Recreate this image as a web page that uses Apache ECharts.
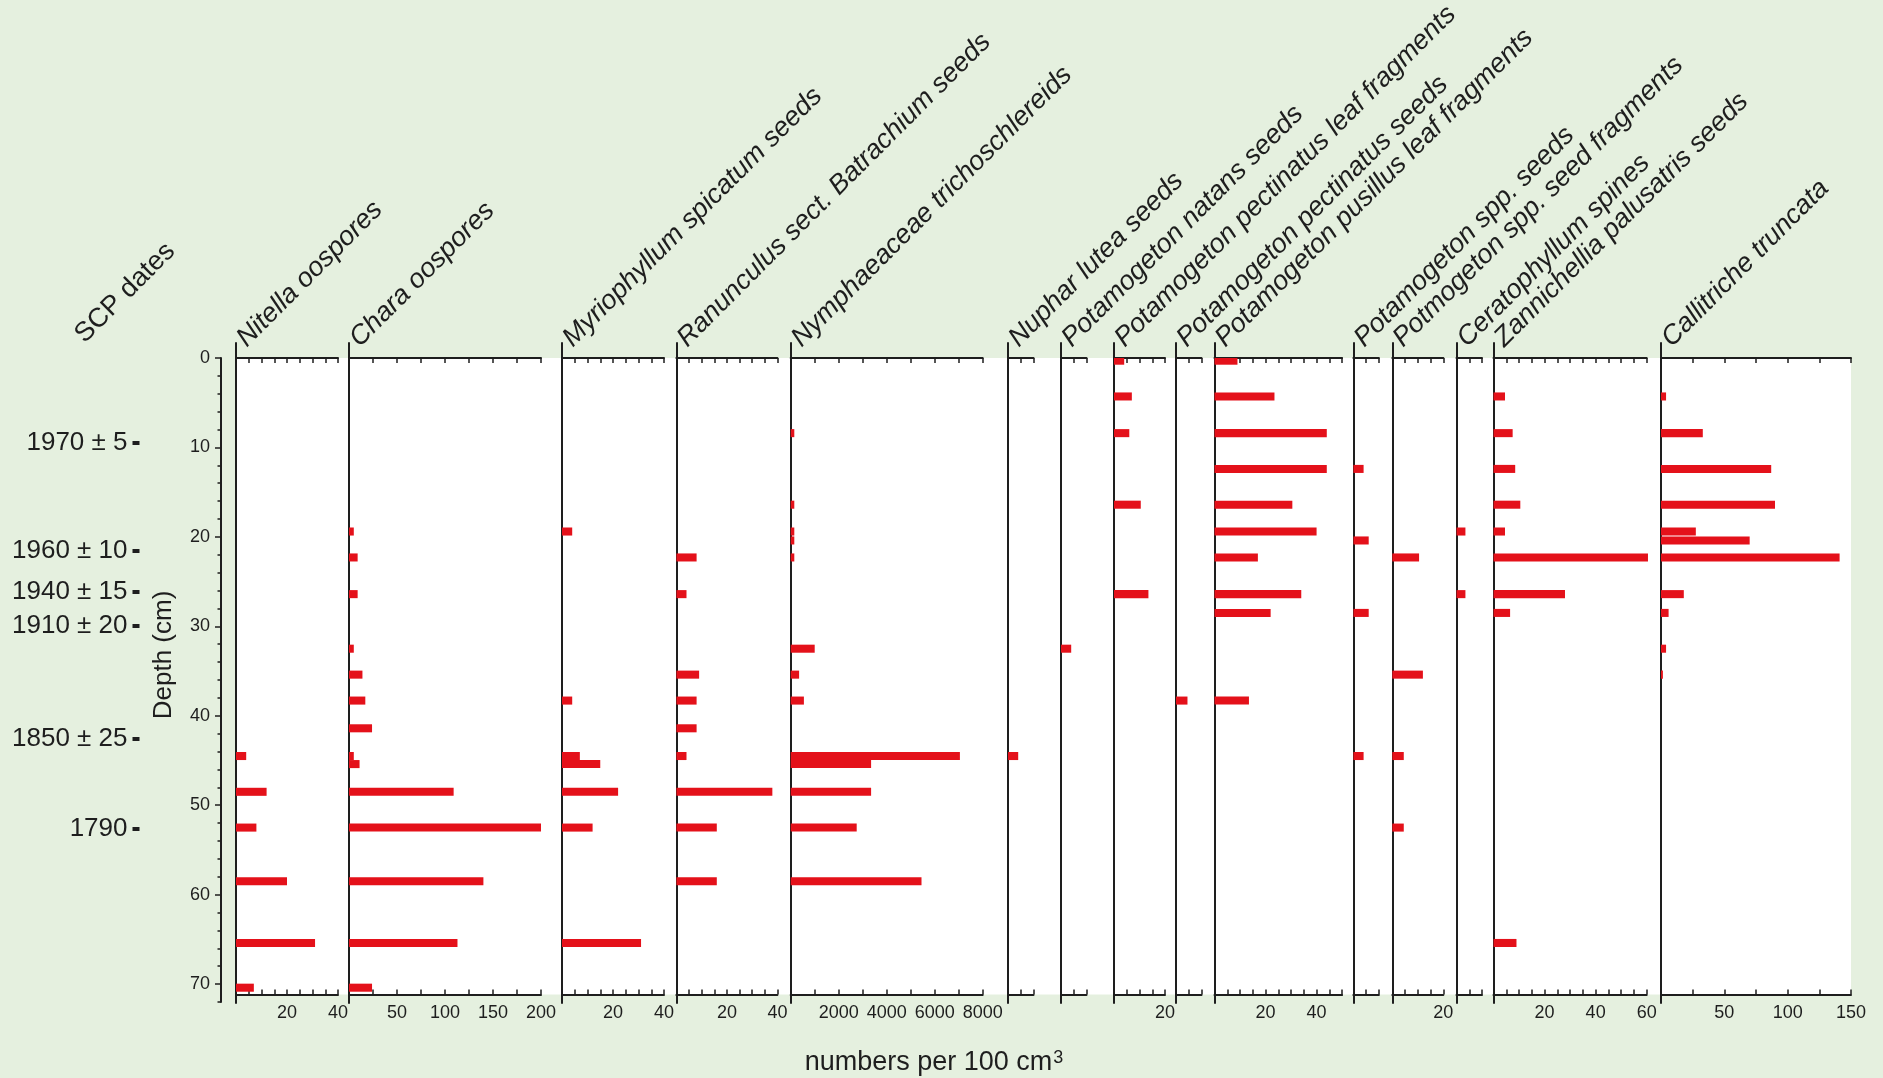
<!DOCTYPE html>
<html>
<head>
<meta charset="utf-8">
<title>Aquatic macrofossil stratigraphy</title>
<script src="https://cdn.jsdelivr.net/npm/echarts@6/dist/echarts.min.js"></script>
<style>
  html, body { margin: 0; padding: 0; background: #e5f0df; }
  #chart { width: 1883px; height: 1078px; }
</style>
</head>
<body>
<div id="chart"></div>
<script>
// ---------------------------------------------------------------------------
// Data: sample depths (cm) and concentrations (numbers per 100 cm3),
// one value per sample depth (0 = not found)
// ---------------------------------------------------------------------------
const depths = [0.3, 4.3, 8.4, 12.4, 16.4, 19.4, 20.4, 22.3, 26.4, 28.5, 32.5,
                35.4, 38.3, 41.4, 44.5, 45.4, 48.5, 52.5, 58.5, 65.4, 70.4];

const nitella     = [0, 0, 0, 0, 0, 0, 0, 0, 0, 0, 0, 0, 0, 0, 4, 0, 12, 8, 20, 31, 7];
const chara       = [0, 0, 0, 0, 0, 5, 0, 9, 9, 0, 5, 14, 17, 24, 5, 11, 109, 200, 140, 113, 24];
const myriophyllum = [0, 0, 0, 0, 0, 4, 0, 0, 0, 0, 0, 0, 4, 0, 7, 15, 22, 12, 0, 31, 0];
const ranunculus  = [0, 0, 0, 0, 0, 0, 0, 8, 4, 0, 0, 9, 8, 8, 4, 0, 38, 16, 16, 0, 0];
const nymphaeaceae = [0, 0, 150, 0, 150, 150, 150, 150, 0, 0, 1000, 350, 550, 0, 7050, 3350, 3350, 2750, 5450, 0, 0];
const nuphar      = [0, 0, 0, 0, 0, 0, 0, 0, 0, 0, 0, 0, 0, 0, 4, 0, 0, 0, 0, 0, 0];
const natans      = [0, 0, 0, 0, 0, 0, 0, 0, 0, 0, 4, 0, 0, 0, 0, 0, 0, 0, 0, 0, 0];
const pectLeaf    = [4, 7, 6, 0, 10.5, 0, 0, 0, 13.5, 0, 0, 0, 0, 0, 0, 0, 0, 0, 0, 0, 0];
const pectSeeds   = [0, 0, 0, 0, 0, 0, 0, 0, 0, 0, 0, 0, 4.5, 0, 0, 0, 0, 0, 0, 0, 0];
const pusillusLeaf = [9, 23.5, 44, 44, 30.5, 40, 0, 17, 34, 22, 0, 0, 13.5, 0, 0, 0, 0, 0, 0, 0, 0];
const sppSeeds    = [0, 0, 0, 4, 0, 0, 6, 0, 0, 6, 0, 0, 0, 0, 4, 0, 0, 0, 0, 0, 0];
const sppFragments = [0, 0, 0, 0, 0, 0, 0, 10.5, 0, 0, 0, 12, 0, 0, 4.5, 0, 0, 4.5, 0, 0, 0];
const ceratophyllum = [0, 0, 0, 0, 0, 3.5, 0, 0, 3.5, 0, 0, 0, 0, 0, 0, 0, 0, 0, 0, 0, 0];
const zannichellia = [0, 4.5, 7.5, 8.5, 10.5, 4.5, 0, 60.5, 28, 6.5, 0, 0, 0, 0, 0, 0, 0, 0, 0, 9, 0];
const callitriche = [0, 4, 33, 87, 90, 27.5, 70, 141, 18, 6, 4, 1.5, 0, 0, 0, 0, 0, 0, 0, 0, 0];

const taxa = [
  'Nitella oospores', 'Chara oospores', 'Myriophyllum spicatum seeds',
  'Ranunculus sect. Batrachium seeds', 'Nymphaeaceae trichoschlereids',
  'Nuphar lutea seeds', 'Potamogeton natans seeds',
  'Potamogeton pectinatus leaf fragments', 'Potamogeton pectinatus seeds',
  'Potamogeton pusillus leaf fragments', 'Potamogeton spp. seeds',
  'Potmogeton spp. seed fragments', 'Ceratophyllum spines',
  'Zannichellia palusatris seeds', 'Callitriche truncata'
];
const taxonValues = [nitella, chara, myriophyllum, ranunculus, nymphaeaceae, nuphar,
  natans, pectLeaf, pectSeeds, pusillusLeaf, sppSeeds, sppFragments, ceratophyllum,
  zannichellia, callitriche];

// Axis extents, tick spacing and labelled values of each column
const axisMax  = [40, 200, 40, 40, 8000, 10, 10, 20, 10, 50, 10, 20, 10, 60, 150];
const tickStep = [5, 25, 5, 5, 1000, 5, 5, 5, 5, 5, 5, 5, 5, 5, 25];
const tickLabels = [[20, 40], [50, 100, 150, 200], [20, 40], [20, 40],
  [2000, 4000, 6000, 8000], [], [], [20], [], [20, 40], [], [20], [], [20, 40, 60],
  [50, 100, 150]];

// Depth axis ticks and the SCP-dated horizons
const depthTicks = [0, 10, 20, 30, 40, 50, 60, 70];
const depthMinorTicks = [0, 2, 4, 6, 8, 10, 12, 14, 16, 18, 20, 22, 24, 26, 28, 30, 32, 34,
  36, 38, 40, 42, 44, 46, 48, 50, 52, 54, 56, 58, 60, 62, 64, 66, 68, 70, 72];
const scpDates  = ['1970 \u00b1 5', '1960 \u00b1 10', '1940 \u00b1 15', '1910 \u00b1 20', '1850 \u00b1 25', '1790'];
const scpDepths = [9.5, 21.6, 26.1, 29.9, 42.6, 52.6];

// ---------------------------------------------------------------------------
// Layout (pixels)
// ---------------------------------------------------------------------------
const panelLeft  = [236, 349, 562, 676.4, 790.7, 1008, 1061, 1114, 1176, 1214.5, 1353.4, 1392.3, 1456.5, 1493.5, 1661];
const panelWidth = [102, 192, 102, 101, 192, 25.5, 25.5, 51, 25.5, 127.6, 25.5, 51, 25.5, 153.2, 190];

const DEPTH_AXIS_X = 221;
const DATE_AXIS_X = 139.5;
const DEPTH_TOP = 358, DEPTH_BOTTOM = 1002, DEPTH_MAX = 72;
const PX_PER_CM = (DEPTH_BOTTOM - DEPTH_TOP) / DEPTH_MAX;
const PANEL_TOP = 343, PANEL_BOTTOM = 1003, PANEL_AXIS_BOTTOM = 994.5;
const panelYMin = (PANEL_TOP - DEPTH_TOP) / PX_PER_CM;
const panelYMax = (PANEL_BOTTOM - DEPTH_TOP) / PX_PER_CM;
const BAR_HALF = 0.45;

const INK = '#1e1e1e';
const RED = '#e4111a';
const FONT = '"Liberation Sans", Arial, Helvetica, sans-serif';

const chart = echarts.init(document.getElementById('chart'));

const grids = [], xAxes = [], yAxes = [], series = [];

taxa.forEach((name, i) => {
  grids.push({
    left: panelLeft[i], width: panelWidth[i],
    top: PANEL_TOP, height: PANEL_BOTTOM - PANEL_TOP,
    containLabel: false, outerBoundsMode: 'none', show: false
  });
  const common = {
    type: 'value', gridIndex: i, min: 0, max: axisMax[i], interval: tickStep[i],
    splitLine: { show: false },
    axisLine: { show: true, onZero: false, lineStyle: { color: INK, width: 2 } },
    axisTick: { show: true, inside: true, length: 5, lineStyle: { color: INK, width: 1.5 } }
  };
  // top scale (ticks only)
  xAxes.push(Object.assign({}, common, {
    position: 'top', offset: -(DEPTH_TOP - PANEL_TOP),
    axisLabel: { show: false }
  }));
  // bottom scale with value labels
  const labels = tickLabels[i];
  xAxes.push(Object.assign({}, common, {
    position: 'bottom', offset: -(PANEL_BOTTOM - PANEL_AXIS_BOTTOM),
    axisLabel: {
      show: true, color: INK, fontSize: 18, fontFamily: FONT, margin: 10,
      showMinLabel: true, showMaxLabel: true,
      formatter: v => (labels.indexOf(v) >= 0 ? String(v) : '')
    }
  }));
  yAxes.push({
    type: 'value', gridIndex: i, inverse: true, min: panelYMin, max: panelYMax,
    axisLine: { show: true, onZero: false, lineStyle: { color: INK, width: 2 } },
    axisTick: { show: false }, axisLabel: { show: false }, splitLine: { show: false }
  });
  const data = [];
  depths.forEach((d, k) => { if (taxonValues[i][k] > 0) data.push([taxonValues[i][k], d]); });
  series.push({
    type: 'custom', name: name, xAxisIndex: 2 * i + 1, yAxisIndex: i,
    data: data, clip: false, z: 3,
    renderItem: (params, api) => {
      const v = api.value(0), d = api.value(1);
      const p0 = api.coord([0, Math.max(d - BAR_HALF, 0)]);
      const p1 = api.coord([v, d + BAR_HALF]);
      return {
        type: 'rect',
        shape: { x: p0[0], y: p0[1], width: p1[0] - p0[0], height: p1[1] - p0[1] },
        style: { fill: RED }
      };
    }
  });
});

// Depth scale and SCP dates share one narrow grid
const D = taxa.length;
grids.push({
  left: DEPTH_AXIS_X, width: 4, top: DEPTH_TOP, height: DEPTH_BOTTOM - DEPTH_TOP,
  containLabel: false, outerBoundsMode: 'none', show: false
});
xAxes.push({ type: 'value', gridIndex: D, show: false, min: 0, max: 1 });
const depthCommon = {
  type: 'value', gridIndex: D, inverse: true, min: 0, max: DEPTH_MAX, position: 'left',
  splitLine: { show: false }
};
yAxes.push(Object.assign({}, depthCommon, {
  axisLine: { show: true, onZero: false, lineStyle: { color: INK, width: 2 } },
  axisTick: { show: true, length: 6, customValues: depthTicks, lineStyle: { color: INK, width: 1.5 } },
  axisLabel: { show: true, customValues: depthTicks, color: INK, fontSize: 18, fontFamily: FONT, margin: 11 }
}));
yAxes.push(Object.assign({}, depthCommon, {
  axisLine: { show: false },
  axisTick: { show: true, length: 3.5, customValues: depthMinorTicks, lineStyle: { color: INK, width: 1.5 } },
  axisLabel: { show: false }
}));
yAxes.push(Object.assign({}, depthCommon, {
  offset: DEPTH_AXIS_X - DATE_AXIS_X,
  axisLine: { show: false },
  axisTick: { show: true, length: 7, customValues: scpDepths, lineStyle: { color: INK, width: 4 } },
  axisLabel: {
    show: true, customValues: scpDepths, color: INK, fontSize: 26, fontFamily: FONT, margin: 12,
    formatter: v => {
      const k = scpDepths.findIndex(s => Math.abs(s - v) < 1e-6);
      return k >= 0 ? scpDates[k] : '';
    }
  }
}));

chart.setOption({
  backgroundColor: '#e5f0df',
  animation: false,
  textStyle: { fontFamily: FONT },
  grid: grids, xAxis: xAxes, yAxis: yAxes, series: series
});

// Header labels, white plotting field and axis titles
const graphics = [];
const topLeft = chart.convertToPixel({ gridIndex: 0 }, [0, 0]);
const lastIdx = taxa.length - 1;
const bottomRight = chart.convertToPixel({ gridIndex: lastIdx }, [axisMax[lastIdx], 0]);
graphics.push({
  type: 'rect', z: -100, silent: true,
  shape: { x: topLeft[0], y: topLeft[1], width: bottomRight[0] - topLeft[0], height: PANEL_AXIS_BOTTOM - topLeft[1] },
  style: { fill: '#ffffff' }
});
taxa.forEach((name, i) => {
  const p = chart.convertToPixel({ gridIndex: i }, [0, panelYMin]);
  graphics.push({
    type: 'text', x: p[0] + 15, y: p[1] + 9, rotation: Math.PI / 4,
    style: { text: name, fill: INK, fontSize: 27, fontStyle: 'italic', fontFamily: FONT,
             align: 'left', verticalAlign: 'bottom' }
  });
});
graphics.push({
  type: 'text', x: 89, y: PANEL_TOP + 5, rotation: Math.PI / 4,
  style: { text: 'SCP dates', fill: INK, fontSize: 27, fontFamily: FONT, align: 'left', verticalAlign: 'bottom' }
});
graphics.push({
  type: 'text', x: 164, y: 655, rotation: Math.PI / 2,
  style: { text: 'Depth (cm)', fill: INK, fontSize: 26, fontFamily: FONT, align: 'center', verticalAlign: 'middle' }
});
graphics.push({
  type: 'text', x: 934, y: 1063,
  style: {
    text: 'numbers per 100 cm{sup|3}', fill: INK, fontSize: 27, fontFamily: FONT,
    align: 'center', verticalAlign: 'middle',
    rich: { sup: { fontSize: 18, verticalAlign: 'top', padding: [0, 0, 10, 1], fill: INK, fontFamily: FONT } }
  }
});
chart.setOption({ graphic: { elements: graphics } });
</script>
</body>
</html>
